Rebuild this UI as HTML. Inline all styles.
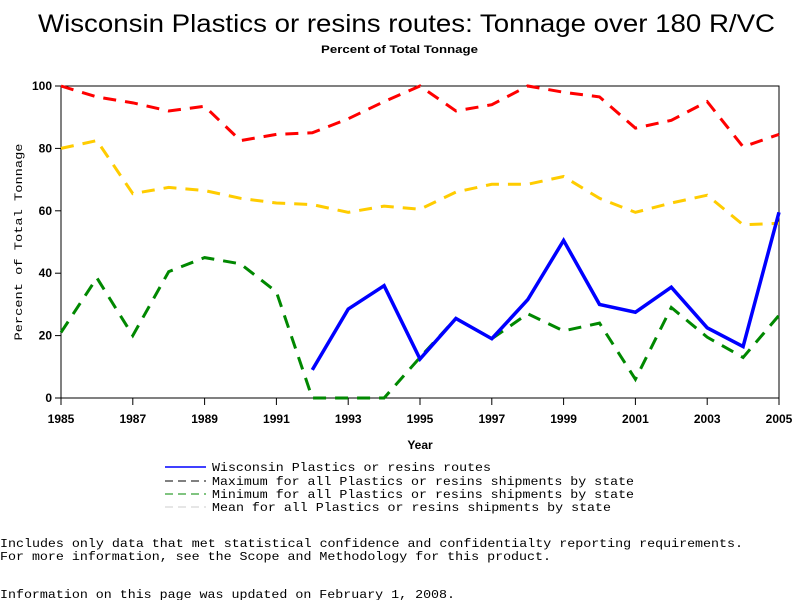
<!DOCTYPE html>
<html><head><meta charset="utf-8"><style>
body{margin:0;background:#fff;width:800px;height:600px;overflow:hidden}
svg{font-family:"Liberation Sans",sans-serif}
.mono{font-family:"Liberation Mono",monospace}
</style></head><body>
<svg width="800" height="600">
<text x="38" y="32" font-size="25" textLength="737" lengthAdjust="spacingAndGlyphs">Wisconsin Plastics or resins routes: Tonnage over 180 R/VC</text>
<text x="321" y="53" font-size="11" font-weight="bold" textLength="157" lengthAdjust="spacingAndGlyphs">Percent of Total Tonnage</text>
<rect x="61" y="86" width="718" height="312" fill="none" stroke="#000"/>
<g id="axes"></g>
<g id="series"></g>
<text x="22" y="242" font-size="11" text-anchor="middle" transform="rotate(-90 22 242)" class="mono" textLength="197" lengthAdjust="spacingAndGlyphs">Percent of Total Tonnage</text>
<text x="420" y="449" font-size="12" font-weight="bold" text-anchor="middle">Year</text>
<g class="mono" font-size="12">
<line x1="165" y1="467" x2="206" y2="467" stroke="#00f" stroke-width="1.5"/>
<text x="212" y="471" textLength="279" lengthAdjust="spacingAndGlyphs">Wisconsin Plastics or resins routes</text>
<line x1="165" y1="481" x2="206" y2="481" stroke="#000" stroke-dasharray="8,5"/>
<text x="212" y="485" textLength="422" lengthAdjust="spacingAndGlyphs">Maximum for all Plastics or resins shipments by state</text>
<line x1="165" y1="494" x2="206" y2="494" stroke="#080" stroke-dasharray="8,5"/>
<text x="212" y="498" textLength="422" lengthAdjust="spacingAndGlyphs">Minimum for all Plastics or resins shipments by state</text>
<line x1="165" y1="507" x2="206" y2="507" stroke="#ccc" stroke-dasharray="8,5"/>
<text x="212" y="511" textLength="399" lengthAdjust="spacingAndGlyphs">Mean for all Plastics or resins shipments by state</text>
<text x="0" y="547" textLength="743" lengthAdjust="spacingAndGlyphs">Includes only data that met statistical confidence and confidentialty reporting requirements.</text>
<text x="0" y="560" textLength="551" lengthAdjust="spacingAndGlyphs">For more information, see the Scope and Methodology for this product.</text>
<text x="0" y="598" textLength="455" lengthAdjust="spacingAndGlyphs">Information on this page was updated on February 1, 2008.</text>
</g>
</svg>
<script>
const years=[1985,1986,1987,1988,1989,1990,1991,1992,1993,1994,1995,1996,1997,1998,1999,2000,2001,2002,2003,2004,2005];
const maxVals=[100,96.5,94.6,92,93.5,82.5,84.5,85,89.5,95,100,92,94,100,98,96.5,86.5,89,95,80.5,84.5];
const meanVals=[80,82.5,65.5,67.5,66.5,64,62.5,62,59.5,61.5,60.5,66,68.5,68.5,71,64,59.5,62.5,65,55.5,56];
const minVals=[21,38.5,20,40.5,45,43,34,0,0,0,13,25.5,19,27,21.5,24,6,29,19.5,13,26.5];
const wiscVals=[null,null,null,null,null,null,null,9,28.5,36,12.5,25.5,19,31.5,50.5,30,27.5,35.5,22.5,16.5,59.5];
const yTicks=[0,20,40,60,80,100];
const xTicks=[1985,1987,1989,1991,1993,1995,1997,1999,2001,2003,2005];
const NS="http://www.w3.org/2000/svg";
const X=y=>61+(y-1985)*(718/20);
const Y=v=>398-v*3.12;
const ax=document.getElementById('axes'),sg=document.getElementById('series');
function mk(t,a,p){const e=document.createElementNS(NS,t);for(const k in a)e.setAttribute(k,a[k]);p.appendChild(e);return e;}
yTicks.forEach(v=>{
 const l=mk('line',{x1:55,x2:61,y1:Y(v),y2:Y(v),stroke:'#000'},ax);
 
 
 const t=mk('text',{x:52,y:Y(v)+4,'font-size':12,'font-weight':'bold','text-anchor':'end'},ax);t.textContent=v;
 
 
});
xTicks.forEach(v=>{
 const l=mk('line',{x1:X(v),x2:X(v),y1:398,y2:405,stroke:'#000'},ax);
 
 
 const t=mk('text',{x:X(v),y:423,'font-size':12,'font-weight':'bold','text-anchor':'middle'},ax);t.textContent=v;
 
 
});
function line(vals,color,dash,w,name){
 let d='';let pen=false;
 vals.forEach((v,i)=>{if(v==null){pen=false;return;}d+=(pen?'L':'M')+X(years[i])+' '+Y(v)+' ';pen=true;});
 const p=mk('path',{d:d,fill:'none',stroke:color,'stroke-width':w,'stroke-dasharray':dash},sg);
 
 
}
line(maxVals,'#f00','13,9',3,'max-line');
line(meanVals,'#fc0','13,9',3,'mean-line');
line(minVals,'#080','13,9',3,'min-line');
line(wiscVals,'#00f','none',3.5,'wisconsin-line');
</script>
</body></html>
